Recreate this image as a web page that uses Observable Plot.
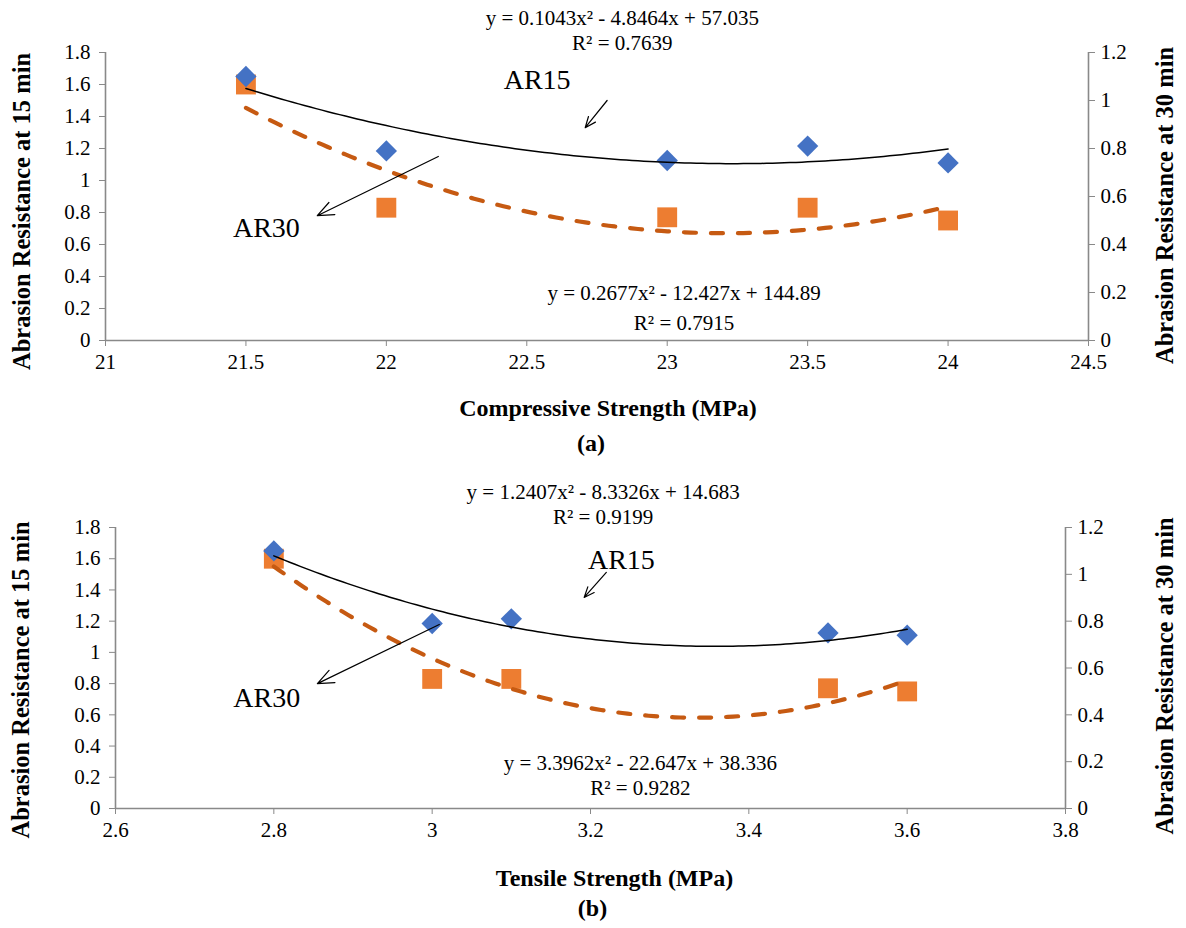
<!DOCTYPE html>
<html>
<head>
<meta charset="utf-8">
<script src="https://cdn.jsdelivr.net/npm/d3@7"></script>
<script src="https://cdn.jsdelivr.net/npm/@observablehq/plot@0.6"></script>
<style>
  html, body { margin: 0; padding: 0; background: #fff; }
  #chart { width: 1186px; }
  #chart svg { display: block; font-family: "Liberation Serif", "Times New Roman", serif !important; }
  #chart svg text { font-family: "Liberation Serif", "Times New Roman", serif !important; }
</style>
</head>
<body>
<div id="chart"></div>
<script>
// ---------- Data ----------
// Panel (a): compressive strength
const compressive = [21.5, 22, 23, 23.5, 24];
const ar15A = [1.10, 0.79, 0.75, 0.81, 0.74];   // diamonds, secondary (right) axis 0–1.2
const ar30A = [1.60, 0.83, 0.77, 0.83, 0.75];   // squares, primary (left) axis 0–1.8
const fit15A = [0.1043, -4.8464, 57.035];
const fit30A = [0.2677, -12.427, 144.89];
const r2A = [0.7639, 0.7915];
const xTicksA = [21, 21.5, 22, 22.5, 23, 23.5, 24, 24.5];

// Panel (b): tensile strength
const tensile = [2.8, 3.0, 3.1, 3.5, 3.6];
const ar15B = [1.10, 0.79, 0.81, 0.75, 0.74];
const ar30B = [1.60, 0.83, 0.83, 0.77, 0.75];
const fit15B = [1.2407, -8.3326, 14.683];
const fit30B = [3.3962, -22.647, 38.336];
const r2B = [0.9199, 0.9282];
const xTicksB = [2.6, 2.8, 3.0, 3.2, 3.4, 3.6, 3.8];

const leftTicks = [0, 0.2, 0.4, 0.6, 0.8, 1, 1.2, 1.4, 1.6, 1.8];
const rightTicks = [0, 0.2, 0.4, 0.6, 0.8, 1, 1.2];

const yTitleLeft = "Abrasion Resistance at 15 min";
const yTitleRight = "Abrasion Resistance at 30 min";
const xTitleA = "Compressive Strength (MPa)";
const xTitleB = "Tensile Strength (MPa)";

// annotation anchors (data units: x, left-axis y)
const annotA = {
  eq15: [22.84, 2.0125, 1.856], eq30: [23.06, 0.294, 0.106],
  lab15: [22.537, 1.625], lab30: [21.573, 0.706],
  arr15: [22.786, 1.50, 22.708, 1.33], arr30: [22.185, 1.15, 21.754, 0.78]
};
const annotB = {
  eq15: [3.216, 2.024, 1.864], eq30: [3.263, 0.288, 0.128],
  lab15: [3.239, 1.589], lab30: [2.791, 0.705],
  arr15: [3.220, 1.512, 3.192, 1.352], arr30: [3.009, 1.179, 2.855, 0.80]
};

// ---------- Helpers ----------
const K = 1.8 / 1.2;  // secondary axis -> primary axis
const quad = (c, x) => c[0] * x * x + c[1] * x + c[2];
const eqText = c => `y = ${c[0]}x² ${c[1] < 0 ? "-" : "+"} ${Math.abs(c[1])}x ${c[2] < 0 ? "-" : "+"} ${Math.abs(c[2])}`;
const fmt = d => String(Math.round(d * 10) / 10);
const FONT = "Liberation Serif";
const AXIS = "#898989";

function panel(p) {
  const x0 = p.x[0], x1 = p.x[p.x.length - 1];
  const xs = d3.range(121).map(i => x0 + (x1 - x0) * i / 120);
  const c15 = xs.map(x => ({x, y: quad(p.fit15, x) * K}));
  const c30 = xs.map(x => ({x, y: quad(p.fit30, x)}));
  const d15 = p.x.map((x, i) => ({x, y: p.ar15[i] * K}));
  const d30 = p.x.map((x, i) => ({x, y: p.ar30[i]}));
  const a = p.annot;
  const eqs = [
    {x: a.eq15[0], y: a.eq15[1], t: eqText(p.fit15)},
    {x: a.eq15[0], y: a.eq15[2], t: `R² = ${p.r2[0]}`},
    {x: a.eq30[0], y: a.eq30[1], t: eqText(p.fit30)},
    {x: a.eq30[0], y: a.eq30[2], t: `R² = ${p.r2[1]}`}
  ];
  const labs = [
    {x: a.lab15[0], y: a.lab15[1], t: "AR15"},
    {x: a.lab30[0], y: a.lab30[1], t: "AR30"}
  ];
  const arrows = [
    {x1: a.arr15[0], y1: a.arr15[1], x2: a.arr15[2], y2: a.arr15[3]},
    {x1: a.arr30[0], y1: a.arr30[1], x2: a.arr30[2], y2: a.arr30[3]}
  ];
  const xMin = p.xTicks[0], xMax = p.xTicks[p.xTicks.length - 1];
  return Plot.plot({
    width: 1186, height: p.height,
    marginTop: p.mt, marginBottom: p.mb, marginLeft: p.ml, marginRight: p.mr,
    x: {domain: [xMin, xMax]},
    y: {domain: [0, 1.8]},
    style: {fontFamily: FONT, fontSize: "20px", color: "#000", background: "#fff", overflow: "visible"},
    marks: [
      Plot.ruleY([0], {stroke: AXIS, strokeWidth: 1.6}),
      Plot.ruleX([xMin], {stroke: AXIS, strokeWidth: 1.6}),
      Plot.ruleX([xMax], {stroke: AXIS, strokeWidth: 1.6}),
      Plot.axisX({ticks: p.xTicks, tickFormat: d => String(d), tickSize: 6, tickPadding: 8,
        stroke: AXIS, fill: "#000", label: null, fontSize: 21, fontFamily: FONT}),
      Plot.axisY({anchor: "left", ticks: leftTicks, tickFormat: fmt, tickSize: 6, tickPadding: 9,
        stroke: AXIS, fill: "#000", label: null, fontSize: 21, fontFamily: FONT}),
      Plot.axisY({anchor: "right", ticks: rightTicks.map(v => v * K), tickFormat: d => fmt(d / K),
        tickSize: 6, tickPadding: 6, stroke: AXIS, fill: "#000", label: null, fontSize: 21, fontFamily: FONT}),
      Plot.text([yTitleLeft], {frameAnchor: "left", rotate: -90, textAnchor: "middle", dx: p.ltx, dy: p.lty,
        fontWeight: "bold", fontSize: 24.5, fontFamily: FONT}),
      Plot.text([yTitleRight], {frameAnchor: "right", rotate: -90, textAnchor: "middle", dx: p.rtx, dy: p.rty,
        fontWeight: "bold", fontSize: 24.5, fontFamily: FONT}),
      Plot.text([p.xTitle], {frameAnchor: "bottom", dx: p.xtx, dy: p.xty, fontWeight: "bold", fontSize: 24, fontFamily: FONT}),
      Plot.text([p.tag], {frameAnchor: "bottom", dx: p.tagx, dy: p.tagy, fontWeight: "bold", fontSize: 24, fontFamily: FONT}),
      Plot.dot(d30, {x: "x", y: "y", symbol: "square", r: 11.2, fill: "#ED7D31", stroke: "none"}),
      Plot.dot(d15, {x: "x", y: "y", symbol: "diamond2", r: 9.6, fill: "#4472C4", stroke: "none"}),
      Plot.line(c30, {x: "x", y: "y", stroke: "#C65A12", strokeWidth: 4.2, strokeDasharray: "12,15",
        strokeLinecap: "round", curve: "linear"}),
      Plot.line(c15, {x: "x", y: "y", stroke: "#000", strokeWidth: 1.5}),
      Plot.arrow(arrows, {x1: "x1", y1: "y1", x2: "x2", y2: "y2", stroke: "#000", strokeWidth: 1.2,
        headLength: 22, headAngle: 45}),
      Plot.text(eqs, {x: "x", y: "y", text: "t", fontSize: 21, fill: "#000", fontFamily: FONT}),
      Plot.text(labs, {x: "x", y: "y", text: "t", fontSize: 28, fill: "#000", fontFamily: FONT})
    ]
  });
}

const chart = document.getElementById("chart");
chart.append(panel({
  x: compressive, ar15: ar15A, ar30: ar30A, fit15: fit15A, fit30: fit30A, r2: r2A,
  xTicks: xTicksA, annot: annotA, xTitle: xTitleA, tag: "(a)",
  height: 465, mt: 52, mb: 125, ml: 105, mr: 98,
  ltx: -83, lty: 15, rtx: 77, rty: 9, xtx: 11, xty: 75, tagx: -6, tagy: 110
}));
chart.append(panel({
  x: tensile, ar15: ar15B, ar30: ar30B, fit15: fit15B, fit30: fit30B, r2: r2B,
  xTicks: xTicksB, annot: annotB, xTitle: xTitleB, tag: "(b)",
  height: 463, mt: 62, mb: 120, ml: 115, mr: 121,
  ltx: -94, lty: 12, rtx: 100, rty: 8, xtx: 24, xty: 77, tagx: 2, tagy: 107
}));
</script>
</body>
</html>
